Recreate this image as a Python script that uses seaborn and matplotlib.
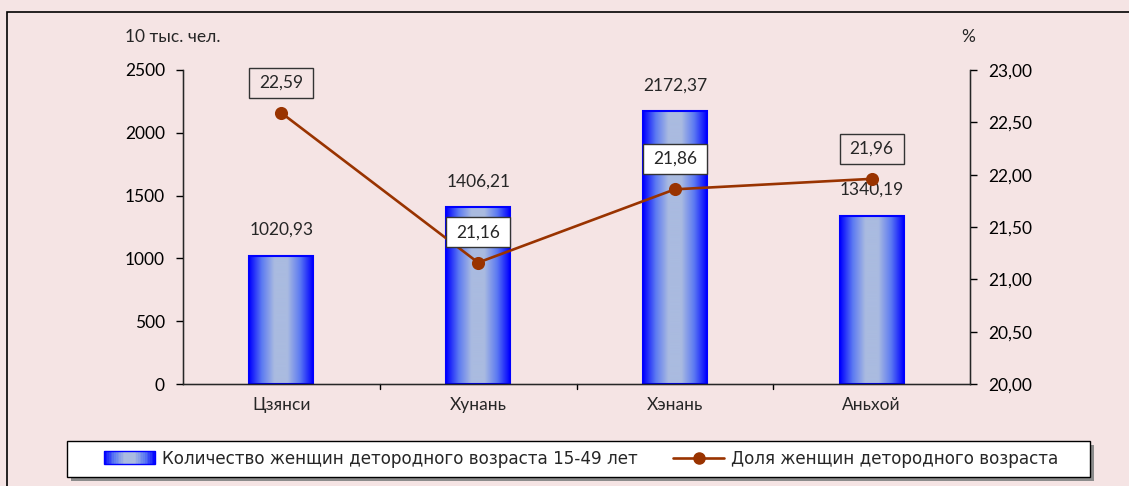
import numpy as np
import pandas as pd
import matplotlib
matplotlib.use("Agg")
import matplotlib.pyplot as plt
import seaborn as sns
from matplotlib.colors import LinearSegmentedColormap
from matplotlib.patches import Rectangle, Patch
from matplotlib.lines import Line2D
from matplotlib.legend_handler import HandlerBase

# ---- data ----
categories = ["Цзянси", "Хунань", "Хэнань", "Аньхой"]
women_count = [1020.93, 1406.21, 2172.37, 1340.19]
women_share = [22.59, 21.16, 21.86, 21.96]
left_ticks = [0, 500, 1000, 1500, 2000, 2500]
right_ticks = [20.0, 20.5, 21.0, 21.5, 22.0, 22.5, 23.0]
bar_label = "Количество женщин детородного возраста 15-49 лет"
line_label = "Доля женщин детородного возраста"
left_title = "10 тыс. чел."
right_title = "%"

BG = "#F5E4E4"
BLUE = "#0000FF"
LIGHT = "#AABBE0"
LINEC = "#993300"
FS = 12.5

sns.set_style("white")
plt.rcParams["font.family"] = ["Lato", "DejaVu Sans"]

fig = plt.figure(figsize=(11.29, 4.86), dpi=100, facecolor=BG)
ax = fig.add_axes([183/1129, 102/486, 787/1129, 314/486])
ax.set_facecolor(BG)

df = pd.DataFrame({"cat": categories, "count": women_count, "share": women_share})
sns.barplot(data=df, x="cat", y="count", ax=ax, color=BLUE, width=0.325,
            edgecolor=BLUE, linewidth=1.2, saturation=1)

cmap = LinearSegmentedColormap.from_list("g", [BLUE, "#5C7AF2", LIGHT, LIGHT, "#5C7AF2", BLUE])
grad = np.linspace(0, 1, 256).reshape(1, -1)
for p in list(ax.patches):
    x0, y0 = p.get_x(), p.get_y()
    w, h = p.get_width(), p.get_height()
    im = ax.imshow(grad, cmap=cmap, aspect="auto", extent=[x0, x0 + w, y0, y0 + h],
                   zorder=p.get_zorder() + 0.1, interpolation="bicubic")
    im.set_clip_path(p)
    ax.add_patch(Rectangle((x0, y0), w, h, fill=False, edgecolor=BLUE, linewidth=1.5,
                           zorder=p.get_zorder() + 0.2))

ax.set_xlim(-0.5, 3.5)
ax.set_ylim(0, 2500)
ax.set_yticks(left_ticks)
ax.set_yticklabels([str(t) for t in left_ticks], fontsize=FS)
ax.set_xlabel("")
ax.set_ylabel("")
ax.tick_params(axis="y", direction="out", length=5, width=1, left=True, pad=8, colors="black")
ax.set_xticks(range(len(categories)))
ax.set_xticklabels(categories, fontsize=FS)
ax.tick_params(axis="x", length=0, pad=9)
for xv in [0.5, 1.5, 2.5]:
    ax.plot([xv, xv], [0, -0.015], transform=ax.get_xaxis_transform(), color="black",
            lw=1, clip_on=False)
ax.spines["top"].set_visible(False)
for s in ["left", "bottom", "right"]:
    ax.spines[s].set_color("black")
    ax.spines[s].set_linewidth(1)

for i, v in enumerate(women_count):
    ax.annotate(f"{v:.2f}".replace(".", ","), (i, v), xytext=(0, 18.5),
                textcoords="offset points", ha="center", va="center", fontsize=FS)

ax2 = ax.twinx()
sns.pointplot(data=df, x="cat", y="share", ax=ax2, color=LINEC, markers="o",
              markersize=8, linewidth=1.9)
ax2.set_xlim(-0.5, 3.5)
ax2.set_ylim(20, 23)
ax2.set_yticks(right_ticks)
ax2.set_yticklabels([f"{t:.2f}".replace(".", ",") for t in right_ticks], fontsize=FS)
ax2.tick_params(axis="y", direction="out", length=5, width=1, right=True, pad=8, colors="black")
ax2.set_ylabel("")
ax2.set_xlabel("")
ax2.spines["top"].set_visible(False)

box_fill = [BG, "white", "white", BG]
share_texts = []
for i, v in enumerate(women_share):
    t = ax2.annotate(f"{v:.2f}".replace(".", ","), (i, v), xytext=(0, 21.8),
                     textcoords="offset points", ha="center", va="center", fontsize=FS,
                     zorder=10)
    share_texts.append(t)

fig.text(125/1129, 1 - 37/486, left_title, ha="left", va="center", fontsize=FS)
fig.text(968/1129, 1 - 37/486, right_title, ha="center", va="center", fontsize=FS)

# outer frame
fig.add_artist(Rectangle((7/1129, -0.1), 1.2, 1 - 12/486 + 0.1, transform=fig.transFigure,
                         fill=False, edgecolor="black", linewidth=1.2))

# legend frame with shadow
fig.add_artist(Rectangle((71/1129, 5/486), 1023/1129, 36/486, transform=fig.transFigure,
                         facecolor="#8C8C8C", edgecolor="none", zorder=1))
fig.add_artist(Rectangle((67/1129, 9/486), 1023/1129, 36/486, transform=fig.transFigure,
                         facecolor="white", edgecolor="black", linewidth=1, zorder=2))


class GradHandler(HandlerBase):
    def create_artists(self, legend, orig_handle, xdescent, ydescent, width, height,
                       fontsize, trans):
        arts = []
        n = 30
        hh = height * 1.1
        y0 = -ydescent + (height - hh) / 2
        for k in range(n):
            c = cmap((k + 0.5) / n)
            arts.append(Rectangle((-xdescent + width * k / n, y0), width / n + 0.3, hh,
                                  facecolor=c, edgecolor="none", transform=trans))
        arts.append(Rectangle((-xdescent, y0), width, hh, fill=False, edgecolor=BLUE,
                              lw=1, transform=trans))
        return arts


handles = [Patch(facecolor="#4A66F0", edgecolor=BLUE),
           Line2D([0], [0], color=LINEC, marker="o", markersize=8, lw=1.9)]
leg = fig.legend(handles, [bar_label, line_label], loc="center",
                 bbox_to_anchor=(581/1129, 27.5/486), ncol=2, frameon=False,
                 prop={"family": ["DejaVu Sans"], "size": 12.1},
                 handlelength=3.05, handletextpad=0.4, columnspacing=2.1,
                 handler_map={Patch: GradHandler()})
leg.set_zorder(5)

# boxes around share labels
fig.canvas.draw()
for t, fc in zip(share_texts, box_fill):
    bb = t.get_window_extent()
    cx, cy = (bb.x0 + bb.x1) / 2, (bb.y0 + bb.y1) / 2
    w, h = 64, 30
    ax2.add_patch(Rectangle((cx - w / 2, cy - h / 2), w, h, transform=None,
                            facecolor=fc, edgecolor="#333333", linewidth=1, zorder=9,
                            clip_on=False))

fig.savefig("out.png", dpi=100, facecolor=BG)
